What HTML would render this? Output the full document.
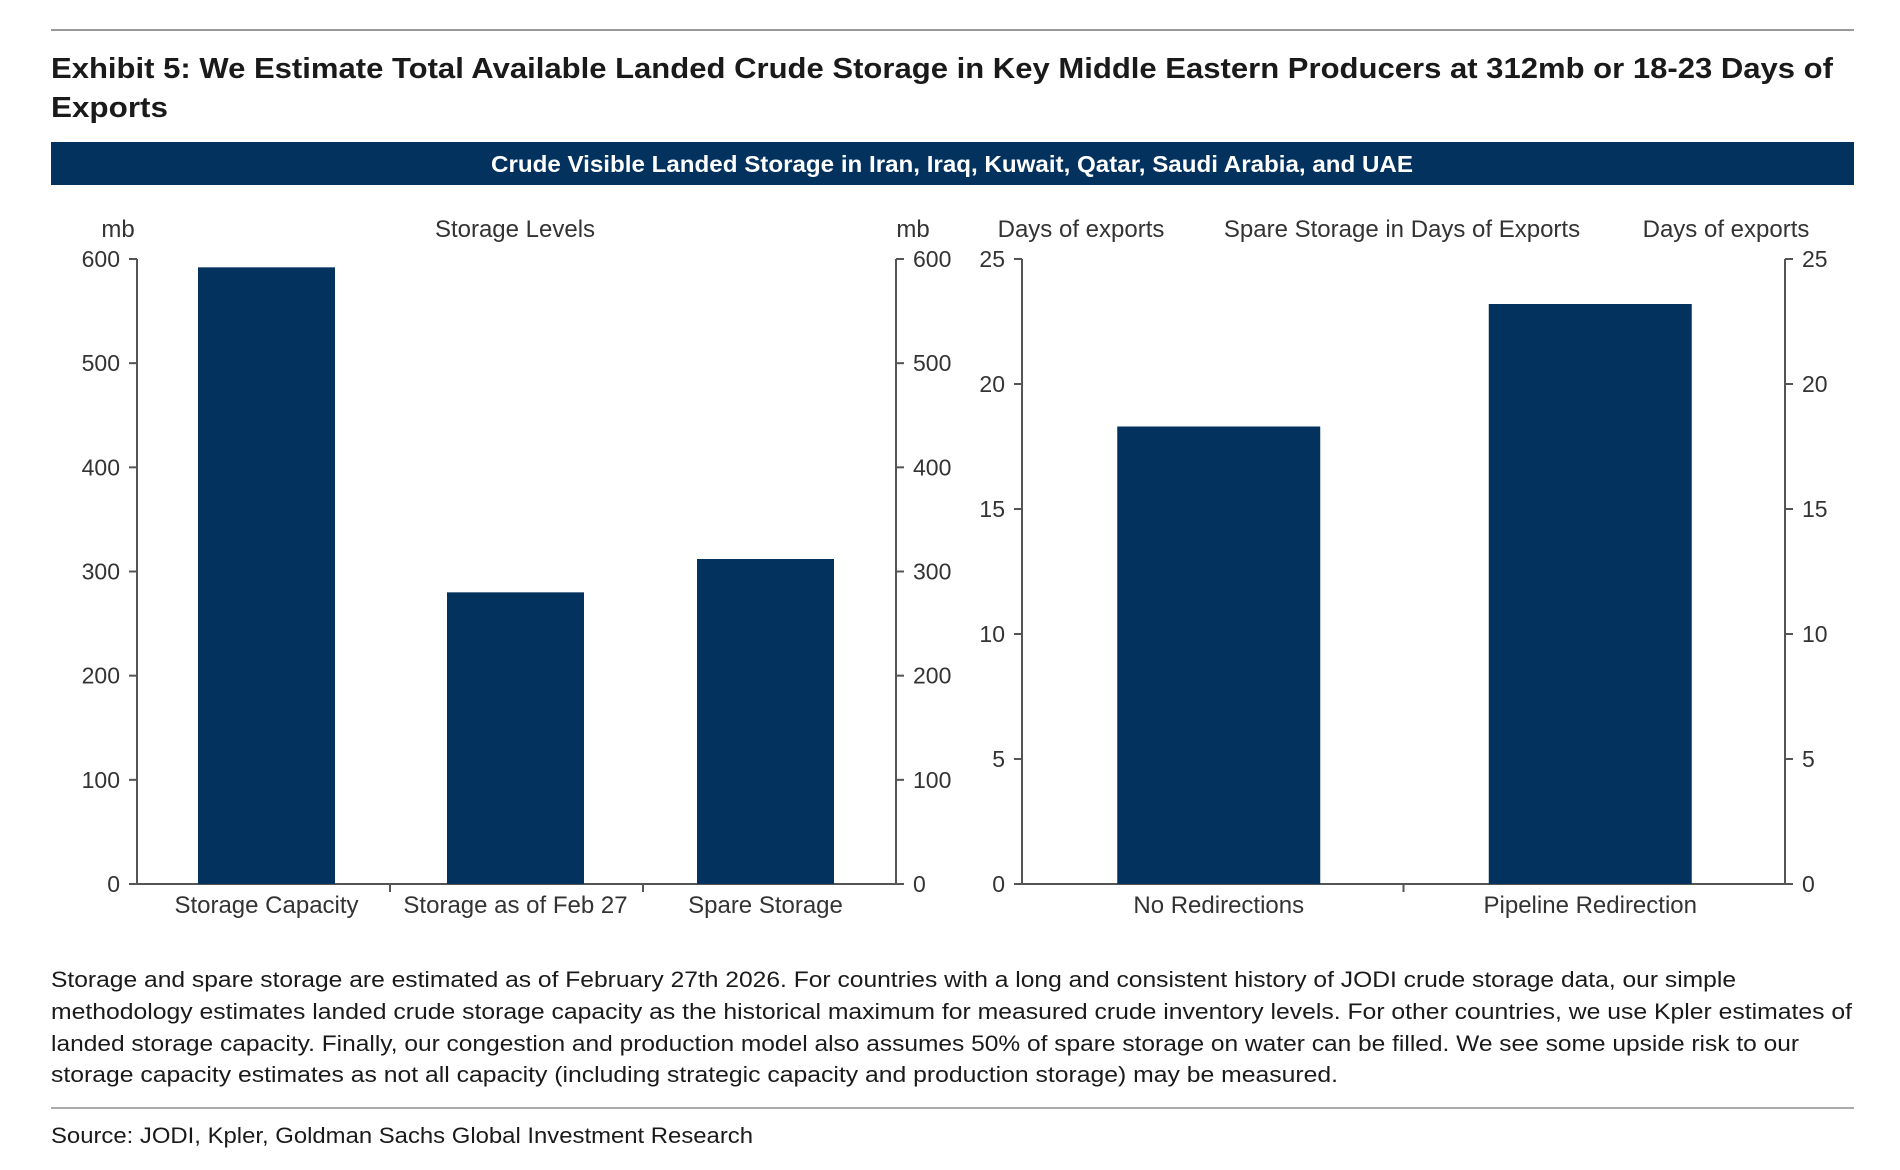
<!DOCTYPE html>
<html><head><meta charset="utf-8"><style>
html,body{margin:0;padding:0;background:#fff}
svg{display:block}
text{font-family:"Liberation Sans",Arial,sans-serif}
</style></head><body>
<svg id="root" width="1900" height="1170" viewBox="0 0 1900 1170" xmlns="http://www.w3.org/2000/svg">
<line x1="51" y1="30" x2="1854" y2="30" stroke="#999" stroke-width="2"/>
<text x="51" y="78" font-size="29" font-weight="bold" fill="#1a1a1a" textLength="1782" lengthAdjust="spacingAndGlyphs">Exhibit 5: We Estimate Total Available Landed Crude Storage in Key Middle Eastern Producers at 312mb or 18-23 Days of</text>
<text x="51" y="117" font-size="29" font-weight="bold" fill="#1a1a1a" textLength="117" lengthAdjust="spacingAndGlyphs">Exports</text>
<rect x="51" y="142" width="1803" height="43" fill="#03325e"/>
<text x="952" y="172" font-size="23" font-weight="bold" fill="#fff" text-anchor="middle" textLength="922" lengthAdjust="spacingAndGlyphs">Crude Visible Landed Storage in Iran, Iraq, Kuwait, Qatar, Saudi Arabia, and UAE</text>
<g id="left"></g>
<g id="right"></g>
<g font-size="22" fill="#1a1a1a">
<text x="51" y="987" textLength="1685" lengthAdjust="spacingAndGlyphs">Storage and spare storage are estimated as of February 27th 2026. For countries with a long and consistent history of JODI crude storage data, our simple</text>
<text x="51" y="1019" textLength="1801" lengthAdjust="spacingAndGlyphs">methodology estimates landed crude storage capacity as the historical maximum for measured crude inventory levels. For other countries, we use Kpler estimates of</text>
<text x="51" y="1051" textLength="1748" lengthAdjust="spacingAndGlyphs">landed storage capacity. Finally, our congestion and production model also assumes 50% of spare storage on water can be filled. We see some upside risk to our</text>
<text x="51" y="1082" textLength="1287" lengthAdjust="spacingAndGlyphs">storage capacity estimates as not all capacity (including strategic capacity and production storage) may be measured.</text>
</g>
<line x1="51" y1="1108" x2="1854" y2="1108" stroke="#aaa" stroke-width="2"/>
<text x="51" y="1143" font-size="22" fill="#1a1a1a" textLength="702" lengthAdjust="spacingAndGlyphs">Source: JODI, Kpler, Goldman Sachs Global Investment Research</text>
</svg>
<script>
const leftCategories = ["Storage Capacity", "Storage as of Feb 27", "Spare Storage"];
const leftValues = [592, 280, 312];
const leftTicks = [0, 100, 200, 300, 400, 500, 600];
const rightCategories = ["No Redirections", "Pipeline Redirection"];
const rightValues = [18.3, 23.2];
const rightTicks = [0, 5, 10, 15, 20, 25];

const NS = "http://www.w3.org/2000/svg";
function mk(parent, tag, attrs, txt) {
  const e = document.createElementNS(NS, tag);
  for (const k in attrs) e.setAttribute(k, attrs[k]);
  if (txt !== undefined) e.textContent = txt;
  parent.appendChild(e);
  return e;
}
function drawChart(g, cfg, cats, vals, ticks) {
  const y0 = 884, y1 = 259;
  const max = ticks[ticks.length - 1];
  const yScale = v => y0 - (v / max) * (y0 - y1);
  const band = (cfg.xr - cfg.xl) / cats.length;
  const xScale = i => cfg.xl + band * (i + 0.5);
  const col = "#555";
  let a = mk(g, "line", {x1: cfg.xl, y1: y1, x2: cfg.xl, y2: y0, stroke: col, "stroke-width": 2});
  
  
  a = mk(g, "line", {x1: cfg.xr, y1: y1, x2: cfg.xr, y2: y0, stroke: col, "stroke-width": 2});
  
  
  a = mk(g, "line", {x1: cfg.xl - 8, y1: y0, x2: cfg.xr + 8, y2: y0, stroke: col, "stroke-width": 2});
  
  
  ticks.forEach(t => {
    const y = yScale(t);
    mk(g, "line", {x1: cfg.xl - 8, y1: y, x2: cfg.xl, y2: y, stroke: col, "stroke-width": 2});
    mk(g, "line", {x1: cfg.xr, y1: y, x2: cfg.xr + 8, y2: y, stroke: col, "stroke-width": 2});
    const l = mk(g, "text", {x: cfg.xl - 17, y: y + 8, "font-size": 23, fill: "#333", "text-anchor": "end"}, String(t));
    
    
    const r = mk(g, "text", {x: cfg.xr + 17, y: y + 8, "font-size": 23, fill: "#333"}, String(t));
    
    
  });
  for (let i = 1; i < cats.length; i++) {
    const x = cfg.xl + band * i;
    mk(g, "line", {x1: x, y1: y0, x2: x, y2: y0 + 8, stroke: col, "stroke-width": 2});
  }
  cats.forEach((c, i) => {
    const cx = xScale(i) + cfg.shift[i];
    const b = mk(g, "rect", {x: cx - cfg.bw / 2, y: yScale(vals[i]), width: cfg.bw, height: y0 - yScale(vals[i]), fill: "#03325e"});
    
    
    const t = mk(g, "text", {x: cx, y: 913, "font-size": 24, fill: "#333", "text-anchor": "middle"}, c);
    
    
  });
  cfg.heads.forEach(h => {
    const t = mk(g, "text", {x: h[0], y: 237, "font-size": 24, fill: "#333", "text-anchor": h[2]}, h[1]);
    
    
  });
}
drawChart(document.getElementById("left"),
  {xl: 137, xr: 896, bw: 137, shift: [3, -1, -4], heads: [[118, "mb", "middle", "left-unit-label"], [515, "Storage Levels", "middle", "chart-title"], [913, "mb", "middle", "right-unit-label"]]},
  leftCategories, leftValues, leftTicks);
drawChart(document.getElementById("right"),
  {xl: 1022, xr: 1785, bw: 203, shift: [6, -4], heads: [[1081, "Days of exports", "middle", "left-unit-label"], [1402, "Spare Storage in Days of Exports", "middle", "chart-title"], [1726, "Days of exports", "middle", "right-unit-label"]]},
  rightCategories, rightValues, rightTicks);
</script>
</body></html>
